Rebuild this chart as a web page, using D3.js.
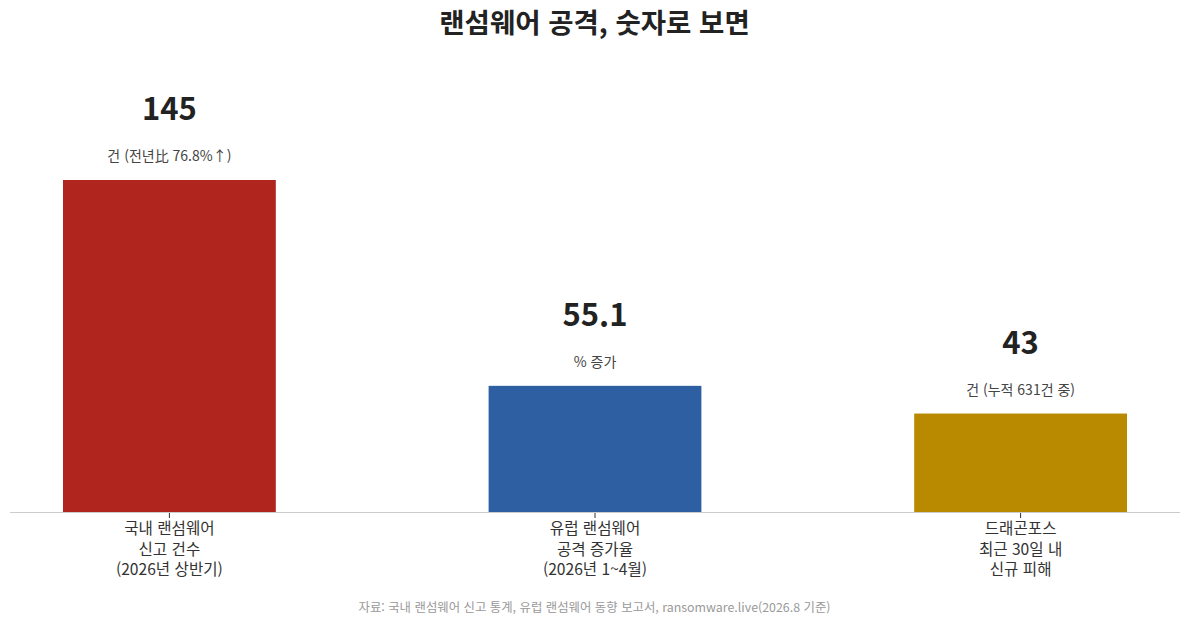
<!DOCTYPE html>
<html lang="ko">
<head>
<meta charset="UTF-8"/>
<title>랜섬웨어 공격, 숫자로 보면</title>
<script src="https://d3js.org/d3.v7.min.js"></script>
<style>
  body { margin: 0; background: #fff; font-family: "Noto Sans CJK KR", "Noto Sans", sans-serif; }
</style>
</head>
<body>
<script>
    // Data
    var categories = [
        ["국내 랜섬웨어", "신고 건수", "(2026년 상반기)"],
        ["유럽 랜섬웨어", "공격 증가율", "(2026년 1~4월)"],
        ["드래곤포스", "최근 30일 내", "신규 피해"]
    ];
    var values = [145, 55.1, 43];
    var valueLabels = ["145", "55.1", "43"];
    var units = ["건 (전년比 76.8%↑)", "% 증가", "건 (누적 631건 중)"];
    var colors = ["#b0261f", "#2e5fa3", "#b98a00"];

    var w = 1189;
    var h = 625;
    var baseY = 512;
    var topY = 180;

    var svg = d3.select("body")
                .append("svg")
                .attr("width", w)
                .attr("height", h);

    // x: one band per category
    var xScale = d3.scaleBand()
                   .domain(d3.range(values.length))
                   .range([63, 1127])
                   .paddingInner(0.5)
                   .paddingOuter(0);

    // y: linear from 0 to the max value
    var yScale = d3.scaleLinear()
                   .domain([0, d3.max(values)])
                   .range([baseY, topY]);

    // Title
    svg.append("text")
       .attr("x", w / 2)
       .attr("y", 33)
       .attr("text-anchor", "middle")
       .attr("font-size", "27.5px")
       .attr("font-weight", "bold")
       .attr("fill", "#222")
       .text("랜섬웨어 공격, 숫자로 보면");

    // Bars
    svg.selectAll("rect.bar")
       .data(values)
       .enter()
       .append("rect")
       .attr("class", "bar")
       .attr("x", function(d, i) { return xScale(i); })
       .attr("y", function(d) { return yScale(d); })
       .attr("width", xScale.bandwidth())
       .attr("height", function(d) { return baseY - yScale(d); })
       .attr("fill", function(d, i) { return colors[i]; });

    // Big value labels
    svg.selectAll("text.value")
       .data(values)
       .enter()
       .append("text")
       .attr("class", "value")
       .attr("x", function(d, i) { return xScale(i) + xScale.bandwidth() / 2; })
       .attr("y", function(d) { return yScale(d) - 60; })
       .attr("text-anchor", "middle")
       .attr("font-size", "31px")
       .attr("font-weight", "bold")
       .attr("fill", "#222")
       .text(function(d, i) { return valueLabels[i]; });

    // Unit labels
    svg.selectAll("text.unit")
       .data(values)
       .enter()
       .append("text")
       .attr("class", "unit")
       .attr("x", function(d, i) { return xScale(i) + xScale.bandwidth() / 2; })
       .attr("y", function(d) { return yScale(d) - 19; })
       .attr("text-anchor", "middle")
       .attr("font-size", "14px")
       .attr("fill", "#444")
       .text(function(d, i) { return units[i]; });

    // Baseline
    svg.append("line")
       .attr("x1", 10)
       .attr("x2", 1180)
       .attr("y1", baseY + 0.5)
       .attr("y2", baseY + 0.5)
       .attr("stroke", "#ccc");

    // x axis: ticks and multi-line labels
    var xAxis = d3.axisBottom(xScale)
                  .tickSize(5)
                  .tickFormat("");
    var axisG = svg.append("g")
                   .attr("transform", "translate(0," + (baseY + 1) + ")")
                   .call(xAxis);
    axisG.select(".domain").remove();
    axisG.selectAll(".tick line").attr("stroke", "#333");

    axisG.selectAll(".tick")
         .append("text")
         .attr("text-anchor", "middle")
         .attr("font-size", "15.6px")
         .attr("fill", "#333")
         .attr("font-family", "Noto Sans CJK KR, sans-serif")
         .selectAll("tspan")
         .data(function(d) { return categories[d]; })
         .enter()
         .append("tspan")
         .attr("x", 0)
         .attr("y", function(d, j) { return 21 + j * 20.5; })
         .text(function(d) { return d; });

    // Source note
    svg.append("text")
       .attr("x", w / 2)
       .attr("y", 612)
       .attr("text-anchor", "middle")
       .attr("font-size", "12.4px")
       .attr("fill", "#999")
       .text("자료: 국내 랜섬웨어 신고 통계, 유럽 랜섬웨어 동향 보고서, ransomware.live(2026.8 기준)");
</script>
</body>
</html>
